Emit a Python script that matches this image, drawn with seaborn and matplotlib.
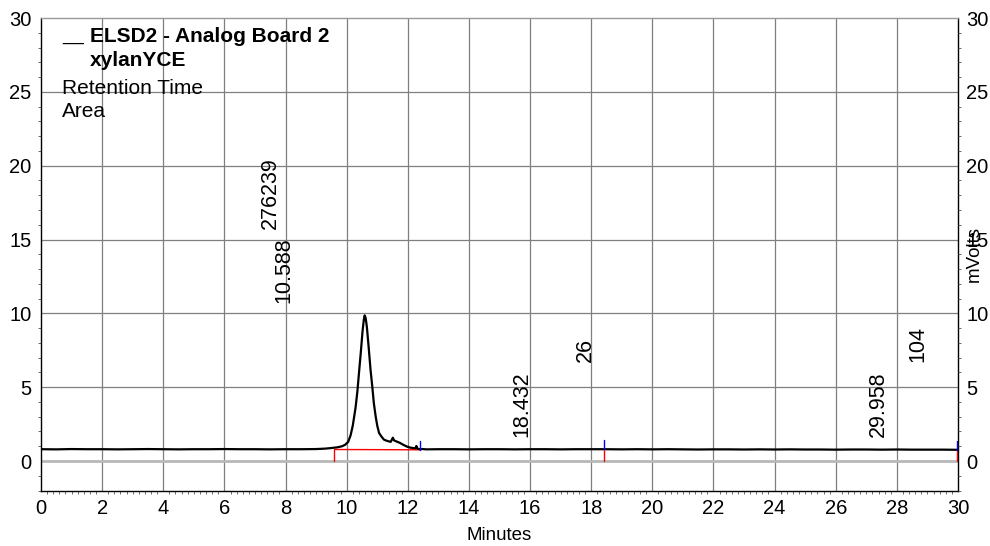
import matplotlib
matplotlib.use("Agg")
import matplotlib.pyplot as plt
import numpy as np
import pandas as pd
import seaborn as sns
from matplotlib.ticker import MultipleLocator

# ELSD2 trace (minutes, mVolts)
time_min = [0.0, 0.5, 1.0, 1.5, 2.0, 2.5, 3.0, 3.5, 4.0, 4.5, 5.0, 5.5, 6.0, 6.5,
            7.0, 7.5, 8.0, 8.5, 9.0, 9.3, 9.5, 9.7, 9.85, 9.95, 10.05, 10.13,
            10.2, 10.29, 10.35, 10.4, 10.46, 10.52, 10.56, 10.588, 10.62, 10.66,
            10.72, 10.78, 10.84, 10.89, 10.95, 11.0, 11.06, 11.14, 11.22, 11.3,
            11.38, 11.44, 11.48, 11.51, 11.55, 11.6, 11.66, 11.75, 11.85, 11.98,
            12.1, 12.2, 12.25, 12.28, 12.32, 12.4, 12.5, 12.6, 13.0, 13.5, 14.0,
            14.5, 15.0, 15.5, 16.0, 16.5, 17.0, 17.5, 18.0, 18.432, 19.0, 19.5,
            20.0, 20.5, 21.0, 21.5, 22.0, 22.5, 23.0, 23.5, 24.0, 24.5, 25.0,
            25.5, 26.0, 26.5, 27.0, 27.5, 28.0, 28.5, 29.0, 29.5, 29.958, 30.0]
signal_mv = [0.80, 0.79, 0.81, 0.80, 0.80, 0.79, 0.80, 0.81, 0.80, 0.79, 0.80, 0.80,
             0.81, 0.80, 0.80, 0.79, 0.80, 0.80, 0.81, 0.84, 0.88, 0.93, 1.00, 1.10,
             1.30, 1.75, 2.40, 3.60, 4.70, 5.90, 7.30, 8.80, 9.55, 9.86, 9.70, 9.10,
             7.70, 6.20, 5.00, 3.90, 3.00, 2.40, 1.90, 1.65, 1.45, 1.38, 1.33, 1.30,
             1.45, 1.58, 1.40, 1.35, 1.30, 1.22, 1.10, 0.97, 0.90, 0.87, 0.86, 1.02,
             0.83, 0.80, 0.81, 0.79, 0.80, 0.80, 0.79, 0.80, 0.80, 0.79, 0.80, 0.80,
             0.79, 0.80, 0.80, 0.80, 0.79, 0.80, 0.79, 0.80, 0.79, 0.78, 0.79, 0.79,
             0.78, 0.79, 0.78, 0.79, 0.78, 0.78, 0.77, 0.78, 0.78, 0.77, 0.78, 0.77,
             0.77, 0.77, 0.76, 0.77]

# Peak table
peak_rt = [10.588, 18.432, 29.958]
peak_area = [276239, 26, 104]
rt_text = ["10.588", "18.432", "29.958"]
area_text = ["276239", "26", "104"]

# Integration events
baseline_start = [9.6, 18.432, 29.958]
baseline_end = [12.4, 18.432, 29.958]
baseline_level = [0.78, 0.80, 0.77]
baseline_end_level = [0.76, 0.80, 0.77]

# Annotation anchors (minutes, mVolts at text base)
rt_label_x = [7.94, 15.72, 27.39]
rt_label_y = [10.7, 1.6, 1.6]
area_label_x = [7.52, 17.81, 28.69]
area_label_y = [15.7, 6.7, 6.7]

x_ticks = list(range(0, 31, 2))
y_ticks = list(range(0, 31, 5))

sns.set_theme(style="white")
plt.rcParams["font.family"] = ["Liberation Sans", "DejaVu Sans"]
plt.rcParams["text.color"] = "black"
plt.rcParams["axes.labelcolor"] = "black"

fs_tick = 14.5
fs_peak = 15.5
fig = plt.figure(figsize=(9.9, 5.46), dpi=100)
ax = fig.add_axes([41 / 990, 1 - 491 / 546, (958 - 41) / 990, (491 - 18) / 546])

ax.set_xlim(0, 30)
ax.set_ylim(-2.03, 30)

# grid
for xv in x_ticks[1:-1]:
    ax.axvline(xv, color="#7f7f7f", lw=0.9, zorder=0)
for yv in y_ticks[1:-1]:
    ax.axhline(yv, color="#7f7f7f", lw=0.9, zorder=0)
ax.axhline(0, color="#b8b8b8", lw=2.0, zorder=0)

# integration baseline and event markers
ax.plot([baseline_start[0], baseline_end[0]], [baseline_level[0], baseline_end_level[0]],
        color="#ff0000", lw=1.0, zorder=1)
for xs, ys in zip(baseline_start, baseline_level):
    ax.plot([xs, xs], [ys, ys - 0.8], color="#ff0000", lw=1.0, zorder=3)
for xe, ye in zip(baseline_end, baseline_end_level):
    ax.plot([xe, xe], [ye, ye + 0.6], color="#0000ff", lw=1.0, zorder=3)

df = pd.DataFrame({"Minutes": time_min, "mVolts": signal_mv})
sns.lineplot(data=df, x="Minutes", y="mVolts", ax=ax, color="black", lw=1.6,
             zorder=2, estimator=None, sort=False)

# peak annotations
for x, y, t in zip(rt_label_x, rt_label_y, rt_text):
    ax.text(x, y, t, rotation=90, ha="center", va="bottom", fontsize=fs_peak)
for x, y, t in zip(area_label_x, area_label_y, area_text):
    ax.text(x, y, t, rotation=90, ha="center", va="bottom", fontsize=fs_peak)

# axes styling
for side in ["left", "bottom", "right"]:
    ax.spines[side].set_color("black")
    ax.spines[side].set_linewidth(1.0)
ax.spines["top"].set_color("#9a9a9a")
ax.spines["top"].set_linewidth(1.0)

ax.set_xticks(x_ticks)
ax.set_yticks(y_ticks)
ax.xaxis.set_minor_locator(MultipleLocator(0.2))
ax.yaxis.set_minor_locator(MultipleLocator(1))
ax.tick_params(axis="both", which="major", length=0, labelsize=fs_tick, colors="black")
ax.tick_params(axis="x", which="major", pad=6)
ax.tick_params(axis="y", which="major", pad=7)
ax.tick_params(axis="both", which="minor", length=2.5, width=0.6, color="#555555",
               bottom=True, left=True)
ax.set_xlabel("Minutes", fontsize=13.5, labelpad=6)
ax.set_ylabel("")

ax2 = ax.twinx()
ax2.set_ylim(ax.get_ylim())
ax2.set_yticks(y_ticks)
ax2.yaxis.set_minor_locator(MultipleLocator(1))
ax2.tick_params(axis="y", which="major", length=0, labelsize=fs_tick, pad=6, colors="black")
ax2.tick_params(axis="y", which="minor", length=2.5, width=0.6, color="#555555", right=True)
for s in ax2.spines.values():
    s.set_visible(False)
ax2.grid(False)
ax.grid(False)

fig.text(974 / 990, 1 - 254 / 546, "mVolts", rotation=90, ha="center", va="center",
         fontsize=13.5)

# header block
ax.text(0.023, 0.962, "__", transform=ax.transAxes, fontsize=14, va="center", ha="left")
ax.text(0.053, 0.960, "ELSD2 - Analog Board 2", transform=ax.transAxes, fontsize=15,
        fontweight="bold", va="center", ha="left")
ax.text(0.053, 0.911, "xylanYCE", transform=ax.transAxes, fontsize=15,
        fontweight="bold", va="center", ha="left")
ax.text(0.023, 0.850, "Retention Time", transform=ax.transAxes, fontsize=15,
        va="center", ha="left")
ax.text(0.023, 0.803, "Area", transform=ax.transAxes, fontsize=15,
        va="center", ha="left")

fig.savefig("out.png", dpi=100)
